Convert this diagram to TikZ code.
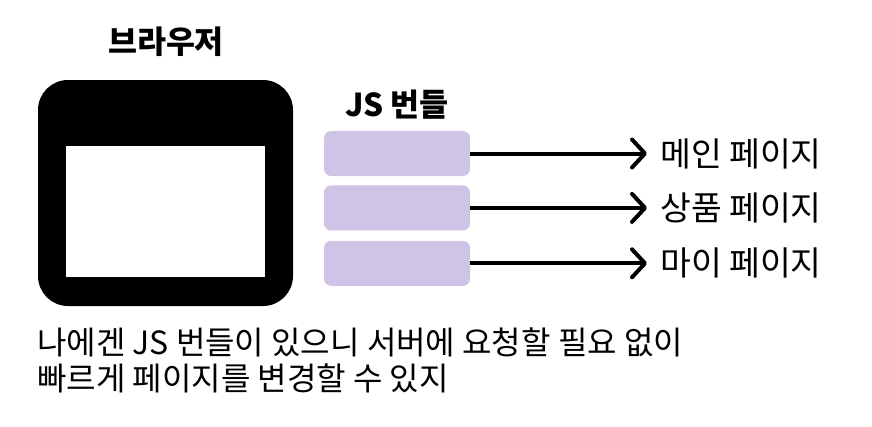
\documentclass[tikz,border=0pt]{standalone}
\usepackage{fontspec}
\setmainfont{Noto Sans CJK KR}
\usetikzlibrary{arrows.meta, positioning}
\definecolor{bundlepurple}{RGB}{208, 196, 230}
\tikzset{
  bundlebox/.style={fill=bundlepurple, rounded corners=7pt, minimum width=146pt, minimum height=45pt, inner sep=0pt},
  pagearrow/.style={-{Straight Barb[length=13pt, width=28pt, line cap=round, line join=round]}, line width=4pt, shorten >=13pt},
  pagelabel/.style={font=\fontsize{33.5}{38}\selectfont, anchor=west, inner sep=0pt},
  titlelabel/.style={font=\fontsize{31.5}{36}\selectfont\bfseries, inner sep=0pt}
}

\begin{document}
\begin{tikzpicture}[x=1pt, y=-1pt]
    \useasboundingbox (0,0) rectangle (872,426);

    % browser window
    \node (browser) [fill=black, rounded corners=30pt, minimum width=255pt, minimum height=226pt, inner sep=0pt] at (165.5,193) {};
    \node (screen) [fill=white, minimum width=199pt, minimum height=131pt, inner sep=0pt] at (165.5,211.5) {};
    \node (browsertitle) [titlelabel] at (166,42) {브라우저};

    % bundles
    \node (bundle1) [bundlebox] at (397,153.5) {};
    \node (bundle2) [bundlebox, below=9pt of bundle1] {};
    \node (bundle3) [bundlebox, below=10pt of bundle2] {};
    \node (bundletitle) [titlelabel] at (397,105) {JS 번들};

    \node (page1) [pagelabel] at (660,153.5) {메인 페이지};
    \node (page2) [pagelabel] at (660,208) {상품 페이지};
    \node (page3) [pagelabel] at (660,263) {마이 페이지};

    \draw[pagearrow] (bundle1.east) -- (bundle1.east -| page1.west);
    \draw[pagearrow] (bundle2.east) -- (bundle2.east -| page2.west);
    \draw[pagearrow] (bundle3.east) -- (bundle3.east -| page3.west);

    \node (caption) [anchor=north west, align=left, inner sep=0pt, font=\fontsize{32}{36}\selectfont] at (37,328) {나에겐 JS 번들이 있으니 서버에 요청할 필요 없이\\빠르게 페이지를 변경할 수 있지};
\end{tikzpicture}
\end{document}
